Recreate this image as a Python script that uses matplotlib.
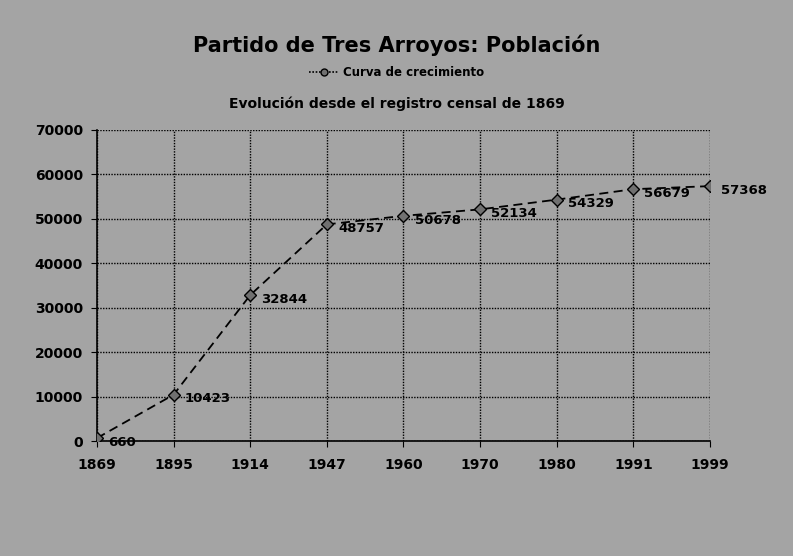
import matplotlib
matplotlib.use("Agg")
import matplotlib.pyplot as plt
from matplotlib.lines import Line2D

years = ["1869", "1895", "1914", "1947", "1960", "1970", "1980", "1991", "1999"]
population = [660, 10423, 32844, 48757, 50678, 52134, 54329, 56679, 57368]
yticks = [0, 10000, 20000, 30000, 40000, 50000, 60000, 70000]

title = "Partido de Tres Arroyos: Población"
subtitle = "Evolución desde el registro censal de 1869"
legend_label = "Curva de crecimiento"

bg = "#a4a4a4"
fig = plt.figure(figsize=(7.93, 5.56), dpi=100, facecolor=bg)
ax = fig.add_axes([0.1223, 0.2068, 0.7730, 0.5594])
ax.set_facecolor(bg)

x = list(range(len(years)))
ax.plot(x, population, color="black", linestyle=(0, (5, 3)), linewidth=1.3,
        marker="D", markersize=6, markerfacecolor="#707070",
        markeredgecolor="black", markeredgewidth=1.0, zorder=3)

for xi, v in zip(x, population):
    ax.annotate(str(v), (xi, v), xytext=(8, -3), textcoords="offset points",
                fontsize=9.5, fontweight="bold", color="black",
                ha="left", va="center", zorder=4)

ax.set_xlim(0, len(years) - 1)
ax.set_ylim(0, 70000)
ax.set_xticks(x)
ax.set_xticklabels(years, fontsize=10, fontweight="bold")
ax.set_yticks(yticks)
ax.set_yticklabels([str(t) for t in yticks], fontsize=10, fontweight="bold")
ax.tick_params(axis="x", pad=8, length=4, direction="out", colors="black")
ax.tick_params(axis="y", pad=6, length=4, direction="out", colors="black")

ax.grid(True, color="black", linestyle=(0, (1, 1)), linewidth=1.0)
ax.set_axisbelow(True)
for s in ax.spines.values():
    s.set_visible(False)
ax.spines["left"].set_visible(True)
ax.spines["bottom"].set_visible(True)
ax.spines["left"].set_linewidth(1.2)
ax.spines["bottom"].set_linewidth(1.2)

fig.text(0.5, 1 - 45 / 556, title, ha="center", va="center",
         fontsize=15, fontweight="bold")
fig.text(0.5, 1 - 104 / 556, subtitle, ha="center", va="center",
         fontsize=10, fontweight="bold")

handle = Line2D([0], [0], color="black", linestyle=(0, (1, 1)), linewidth=1.2,
                marker="o", markersize=5, markerfacecolor="#707070",
                markeredgecolor="black")
fig.legend([handle], [legend_label], loc="center", bbox_to_anchor=(0.5, 1 - 73 / 556),
           frameon=False, prop={"weight": "bold", "size": 8.5},
           handlelength=2.5, handletextpad=0.4)

fig.savefig("out.png", dpi=100, facecolor=bg)
